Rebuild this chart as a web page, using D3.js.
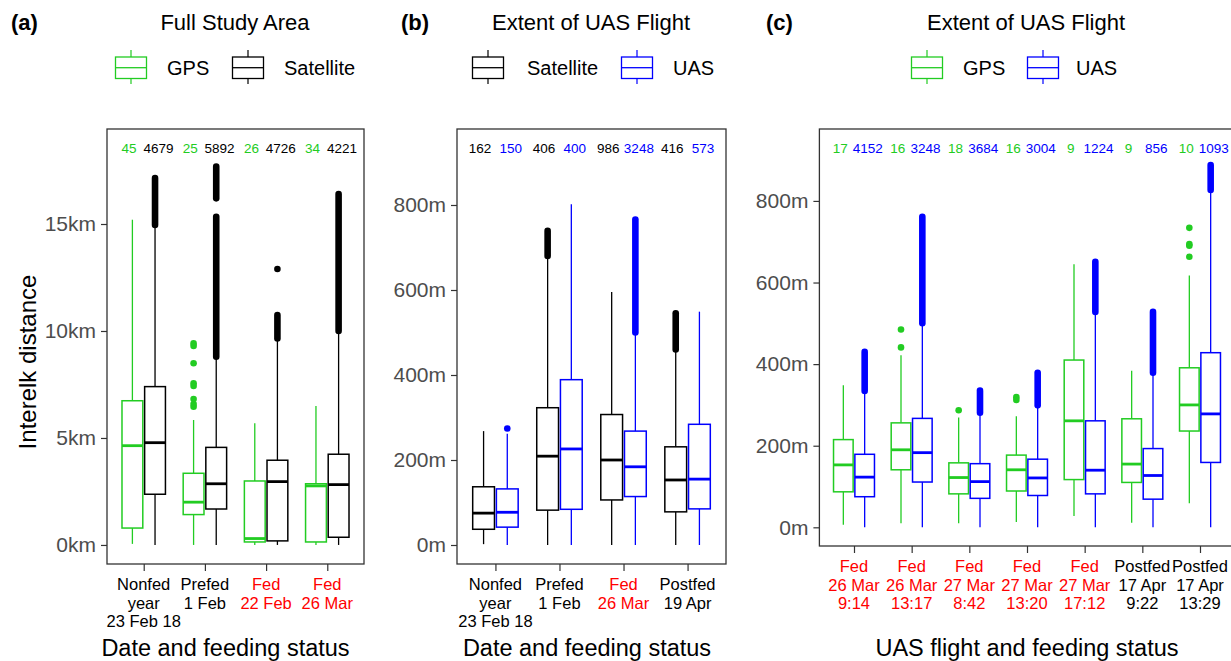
<!DOCTYPE html>
<html>
<head>
<meta charset="utf-8">
<script src="https://cdn.jsdelivr.net/npm/d3@7"></script>
<style>
body { margin: 0; background: #fff; }
text { font-family: "Liberation Sans", Arial, sans-serif; }
</style>
</head>
<body>
<div id="chart"></div>
<script>
// colours used by the figure
const GREEN = "#22cc22", BLUE = "#0000ff", BLACK = "#000000", RED = "#ff0000";

// box stats are [low whisker, q1, median, q3, high whisker]
// ---- panel (a): full study area, km ----
const aCats = ["Nonfed", "Prefed", "Fed 22 Feb", "Fed 26 Mar"];
const aTickLabels = [["Nonfed", "year", "23 Feb 18"], ["Prefed", "1 Feb"], ["Fed", "22 Feb"], ["Fed", "26 Mar"]];
const aTickRed = [false, false, true, true];
const aGpsStats = [[0.05, 0.79, 4.64, 6.74, 15.2], [0, 1.42, 2.0, 3.35, 5.84], [0, 0.14, 0.3, 2.99, 5.69], [0, 0.14, 2.76, 2.86, 6.5]];
const aGpsOut = [[], [6.46, 6.59, 6.82, 7.43, 7.56, 8.49, 9.3, 9.42], [], []];
const aGpsN = [45, 25, 26, 34];
const aSatStats = [[0, 2.37, 4.78, 7.4, 14.9], [0, 1.68, 2.86, 4.56, 8.77], [0, 0.19, 2.96, 3.96, 9.6], [0, 0.36, 2.82, 4.24, 9.97]];
const aSatOut = [[], [], [12.9], []];
const aSatRuns = [[[14.95, 17.15]], [[8.8, 15.34], [16.2, 17.68]], [[9.65, 10.75]], [[10.0, 16.4]]];
const aSatN = [4679, 5892, 4726, 4221];

// ---- panel (b): extent of UAS flight, m ----
const bCats = ["Nonfed", "Prefed", "Fed", "Postfed"];
const bTickLabels = [["Nonfed", "year", "23 Feb 18"], ["Prefed", "1 Feb"], ["Fed", "26 Mar"], ["Postfed", "19 Apr"]];
const bTickRed = [false, false, true, false];
const bSatStats = [[2, 37, 75, 137, 268], [0, 82, 209, 323, 675], [0, 106, 200, 307, 595], [0, 78, 153, 231, 455]];
const bSatRuns = [[], [[680, 739]], [], [[460, 545]]];
const bSatN = [162, 406, 986, 416];
const bUasStats = [[0, 42, 77, 132, 262], [0, 84, 226, 389, 802], [0, 114, 184, 268, 495], [0, 85, 155, 284, 549]];
const bUasOut = [[274], [], [], []];
const bUasRuns = [[], [], [[500, 766]], []];
const bUasN = [150, 400, 3248, 573];

// ---- panel (c): UAS flights, m ----
const cCats = ["F1", "F2", "F3", "F4", "F5", "P1", "P2"];
const cTickLabels = [["Fed", "26 Mar", "9:14"], ["Fed", "26 Mar", "13:17"], ["Fed", "27 Mar", "8:42"], ["Fed", "27 Mar", "13:20"],
  ["Fed", "27 Mar", "17:12"], ["Postfed", "17 Apr", "9:22"], ["Postfed", "17 Apr", "13:29"]];
const cTickRed = [true, true, true, true, true, false, false];
const cGpsStats = [[6, 87, 153, 215, 348], [10, 141, 190, 256, 422], [10, 82, 122, 158, 269], [13, 89, 141, 177, 272],
  [28, 117, 261, 410, 645], [11, 110, 155, 266, 384], [59, 236, 300, 391, 617]];
const cGpsOut = [[], [441, 485], [287], [312, 319], [], [], [663, 690, 694, 734]];
const cGpsN = [17, 16, 18, 16, 9, 9, 10];
const cUasStats = [[0, 75, 123, 179, 330], [0, 111, 183, 267, 495], [0, 71, 112, 156, 277], [0, 78, 121, 167, 295],
  [0, 82, 140, 261, 523], [0, 69, 127, 193, 375], [0, 159, 278, 428, 822]];
const cUasRuns = [[[334, 430]], [[500, 761]], [[281, 335]], [[299, 379]], [[528, 651]], [[379, 528]], [[827, 888]]];
const cUasN = [4152, 3248, 3684, 3004, 1224, 856, 1093];

const width = 1231, height = 661;
const svg = d3.select("#chart").append("svg")
  .attr("width", width).attr("height", height)
  .attr("viewBox", [0, 0, width, height]);

function drawPanel(p) {
  const x = d3.scalePoint().domain(p.cats).range([p.left, p.right]).padding(0.6);
  const y = d3.scaleLinear().domain(p.yDomain).range([p.bottom, p.top]);
  const step = x.step();
  const boxW = step * 0.34, off = step * 0.185, labOff = step * 0.24;
  const g = svg.append("g");

  // y axis
  g.append("g")
    .attr("transform", `translate(${p.left},0)`)
    .call(d3.axisLeft(y).tickValues(p.yTicks).tickFormat(p.fmt).tickSize(6).tickPadding(5))
    .call(a => a.select(".domain").remove())
    .call(a => a.selectAll(".tick line").attr("stroke", "#333").attr("stroke-width", 1.2))
    .call(a => a.selectAll(".tick text").attr("fill", "#4d4d4d").style("font-size", "21px")
      .style("font-family", "'Liberation Sans', Arial, sans-serif"));

  // x axis ticks
  g.append("g")
    .attr("transform", `translate(0,${p.bottom})`)
    .call(d3.axisBottom(x).tickSize(7).tickFormat(""))
    .call(a => a.select(".domain").remove())
    .call(a => a.selectAll(".tick line").attr("stroke", "#333").attr("stroke-width", 1.2));

  // x tick labels, several lines each
  p.cats.forEach((c, i) => {
    const t = g.append("text")
      .attr("text-anchor", "middle")
      .style("font-size", "16.5px")
      .attr("fill", p.tickRed[i] ? RED : BLACK);
    p.tickLabels[i].forEach((line, j) => {
      t.append("tspan").attr("x", x(c)).attr("y", p.labelY + j * 18.5).text(line);
    });
  });

  // boxes
  p.series.forEach((s, k) => {
    const dir = k === 0 ? -1 : 1;
    p.cats.forEach((c, i) => {
      const cx = x(c) + dir * off;
      const st = s.stats[i];
      g.append("line").attr("x1", cx).attr("x2", cx).attr("y1", y(st[0])).attr("y2", y(st[1]))
        .attr("stroke", s.color).attr("stroke-width", 1.3);
      g.append("line").attr("x1", cx).attr("x2", cx).attr("y1", y(st[3])).attr("y2", y(st[4]))
        .attr("stroke", s.color).attr("stroke-width", 1.3);
      (s.runs ? s.runs[i] : []).forEach(r => {
        g.append("line").attr("x1", cx).attr("x2", cx).attr("y1", y(r[0])).attr("y2", y(r[1]))
          .attr("stroke", s.color).attr("stroke-width", 6.6).attr("stroke-linecap", "round");
      });
      (s.out ? s.out[i] : []).forEach(v => {
        g.append("circle").attr("cx", cx).attr("cy", y(v)).attr("r", 3.3).attr("fill", s.color);
      });
      g.append("rect")
        .attr("x", cx - boxW / 2).attr("width", boxW)
        .attr("y", y(st[3])).attr("height", y(st[1]) - y(st[3]))
        .attr("fill", "#fff").attr("stroke", s.color).attr("stroke-width", 1.5);
      g.append("line").attr("x1", cx - boxW / 2).attr("x2", cx + boxW / 2)
        .attr("y1", y(st[2])).attr("y2", y(st[2]))
        .attr("stroke", s.color).attr("stroke-width", 2.8);
      // sample size above each box
      g.append("text")
        .attr("x", x(c) + dir * labOff).attr("y", 153)
        .attr("text-anchor", "middle").style("font-size", "13.5px")
        .attr("fill", s.color).text(s.n[i]);
    });
  });

  // panel border
  g.append("rect")
    .attr("x", p.left).attr("y", p.top)
    .attr("width", p.right - p.left).attr("height", p.bottom - p.top)
    .attr("fill", "none").attr("stroke", "#333").attr("stroke-width", 1.3);

  // header: tag, title, legend
  svg.append("text").attr("x", p.tagX).attr("y", 30)
    .style("font-size", "22px").style("font-weight", "bold").text(p.tag);
  svg.append("text").attr("x", p.titleX).attr("y", 30).attr("text-anchor", "middle")
    .style("font-size", "22px").text(p.title);
  p.legend.forEach(l => {
    const lg = svg.append("g").attr("transform", `translate(${l.keyX},0)`);
    lg.append("line").attr("x1", 16).attr("x2", 16).attr("y1", 50).attr("y2", 84)
      .attr("stroke", l.color).attr("stroke-width", 1.2);
    lg.append("rect").attr("x", 0.5).attr("y", 57).attr("width", 31).attr("height", 21.5)
      .attr("fill", "#fff").attr("stroke", l.color).attr("stroke-width", 1.3);
    lg.append("line").attr("x1", 0.5).attr("x2", 31.5).attr("y1", 67.7).attr("y2", 67.7)
      .attr("stroke", l.color).attr("stroke-width", 1.3);
    svg.append("text").attr("x", l.textX).attr("y", 75)
      .style("font-size", "20px").text(l.name);
  });

  // x axis title
  svg.append("text").attr("x", (p.left + p.right) / 2 + (p.xTitleShift || 0)).attr("y", 656)
    .attr("text-anchor", "middle").style("font-size", "23.5px").text(p.xTitle);
}

drawPanel({
  left: 107, right: 364, top: 129, bottom: 564, yDomain: [-0.89, 19.44],
  yTicks: [0, 5, 10, 15], fmt: d => d + "km",
  cats: aCats, tickLabels: aTickLabels, tickRed: aTickRed, labelY: 590,
  series: [
    { stats: aGpsStats, out: aGpsOut, n: aGpsN, color: GREEN },
    { stats: aSatStats, out: aSatOut, runs: aSatRuns, n: aSatN, color: BLACK }
  ],
  tag: "(a)", tagX: 11, title: "Full Study Area", titleX: 235,
  legend: [
    { name: "GPS", color: GREEN, keyX: 115, textX: 167 },
    { name: "Satellite", color: BLACK, keyX: 232, textX: 284 }
  ],
  xTitle: "Date and feeding status", xTitleShift: -10
});

drawPanel({
  left: 457, right: 726, top: 129, bottom: 564, yDomain: [-44.7, 978.8],
  yTicks: [0, 200, 400, 600, 800], fmt: d => d + "m",
  cats: bCats, tickLabels: bTickLabels, tickRed: bTickRed, labelY: 590,
  series: [
    { stats: bSatStats, runs: bSatRuns, n: bSatN, color: BLACK },
    { stats: bUasStats, out: bUasOut, runs: bUasRuns, n: bUasN, color: BLUE }
  ],
  tag: "(b)", tagX: 401, title: "Extent of UAS Flight", titleX: 591,
  legend: [
    { name: "Satellite", color: BLACK, keyX: 472, textX: 527 },
    { name: "UAS", color: BLUE, keyX: 621, textX: 673 }
  ],
  xTitle: "Date and feeding status", xTitleShift: -4.5
});

drawPanel({
  left: 819.4, right: 1234.6, top: 129, bottom: 546, yDomain: [-45.8, 976.3],
  yTicks: [0, 200, 400, 600, 800], fmt: d => d + "m",
  cats: cCats, tickLabels: cTickLabels, tickRed: cTickRed, labelY: 572,
  series: [
    { stats: cGpsStats, out: cGpsOut, n: cGpsN, color: GREEN },
    { stats: cUasStats, runs: cUasRuns, n: cUasN, color: BLUE }
  ],
  tag: "(c)", tagX: 766, title: "Extent of UAS Flight", titleX: 1026,
  legend: [
    { name: "GPS", color: GREEN, keyX: 911, textX: 963 },
    { name: "UAS", color: BLUE, keyX: 1027, textX: 1076 }
  ],
  xTitle: "UAS flight and feeding status", xTitleShift: 0
});

// shared y title
svg.append("text")
  .attr("transform", "translate(36,362) rotate(-90)")
  .attr("text-anchor", "middle").style("font-size", "24px")
  .text("Interelk distance");
</script>
</body>
</html>
